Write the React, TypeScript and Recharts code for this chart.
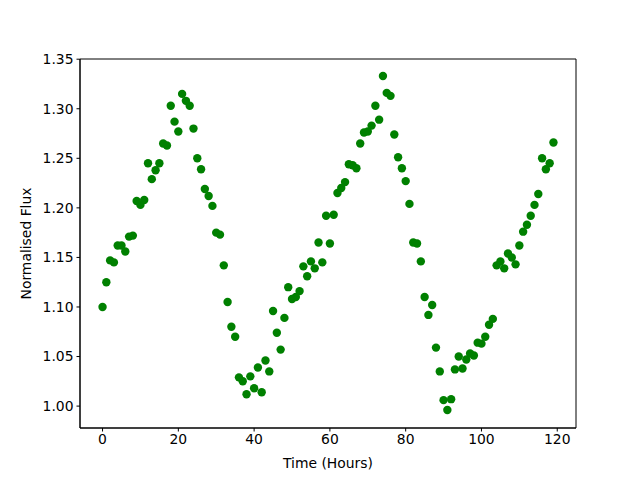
import React from 'react';
import {
  ScatterChart,
  Scatter,
  XAxis,
  YAxis,
  ReferenceArea,
} from 'recharts';

// hours 0..119, one reading per hour
const hours: number[] = Array.from({ length: 120 }, (_, i) => i);

const flux: number[] = [
  1.100, 1.125, 1.147, 1.145, 1.162, 1.162, 1.156, 1.171, 1.172, 1.207,
  1.203, 1.208, 1.245, 1.229, 1.238, 1.245, 1.265, 1.263, 1.303, 1.287,
  1.277, 1.315, 1.308, 1.303, 1.280, 1.250, 1.239, 1.219, 1.212, 1.202,
  1.175, 1.173, 1.142, 1.105, 1.080, 1.070, 1.029, 1.025, 1.012, 1.030,
  1.018, 1.039, 1.014, 1.046, 1.035, 1.096, 1.074, 1.057, 1.089, 1.120,
  1.108, 1.110, 1.116, 1.141, 1.131, 1.146, 1.139, 1.165, 1.145, 1.192,
  1.164, 1.193, 1.215, 1.220, 1.226, 1.244, 1.243, 1.240, 1.265, 1.276,
  1.277, 1.283, 1.303, 1.289, 1.333, 1.316, 1.313, 1.274, 1.251, 1.240,
  1.227, 1.204, 1.165, 1.164, 1.146, 1.110, 1.092, 1.102, 1.059, 1.035,
  1.006, 0.996, 1.007, 1.037, 1.050, 1.038, 1.047, 1.053, 1.051, 1.064,
  1.063, 1.070, 1.082, 1.088, 1.142, 1.146, 1.139, 1.154, 1.150, 1.143,
  1.162, 1.176, 1.183, 1.192, 1.203, 1.214, 1.250, 1.239, 1.245, 1.266,
];

const xTicks = [0, 20, 40, 60, 80, 100, 120];
const yTicks = [1.0, 1.05, 1.1, 1.15, 1.2, 1.25, 1.3, 1.35];

const X_DOMAIN: [number, number] = [-5.95, 124.95];
const Y_DOMAIN: [number, number] = [0.9779, 1.3502];

const FONT = '"DejaVu Sans", sans-serif';

const dot = (props: any) => (
  <circle cx={props.cx} cy={props.cy} r={4.2} fill="#008000" />
);

const App = () => {
  const data = hours.map((h, i) => ({ h, f: flux[i] }));
  const tickStyle = { fill: '#000', fontSize: 13.9, fontFamily: FONT };

  return (
    <div style={{ position: 'absolute', left: 0, top: 0, width: 640, height: 480, background: '#fff' }}>
      <ScatterChart
        width={640}
        height={480}
        margin={{ top: 59, right: 64, bottom: 0, left: 0 }}
      >
        <XAxis
          type="number"
          dataKey="h"
          domain={X_DOMAIN}
          ticks={xTicks}
          allowDataOverflow
          height={52}
          tickSize={3.5}
          tickMargin={3}
          stroke="#000"
          tick={tickStyle}
          label={{
            value: 'Time (Hours)',
            position: 'insideBottom',
            offset: 12,
            style: { fill: '#000', fontSize: 13.9, fontFamily: FONT },
          }}
        />
        <YAxis
          type="number"
          dataKey="f"
          domain={Y_DOMAIN}
          ticks={yTicks}
          allowDataOverflow
          width={80}
          tickSize={3.5}
          tickMargin={3}
          stroke="#000"
          tick={tickStyle}
          tickFormatter={(v: number) => v.toFixed(2)}
          label={{
            value: 'Normalised Flux',
            angle: -90,
            position: 'insideLeft',
            offset: 26,
            style: { fill: '#000', fontSize: 13.9, fontFamily: FONT, textAnchor: 'middle' },
          }}
        />
        {/* box round the plot like matplotlib's spines */}
        <ReferenceArea
          x1={X_DOMAIN[0]}
          x2={X_DOMAIN[1]}
          y1={Y_DOMAIN[0]}
          y2={Y_DOMAIN[1]}
          fill="none"
          stroke="#000"
          strokeWidth={1}
          ifOverflow="visible"
        />
        <Scatter data={data} shape={dot} isAnimationActive={false} />
      </ScatterChart>
    </div>
  );
};

export default App;
